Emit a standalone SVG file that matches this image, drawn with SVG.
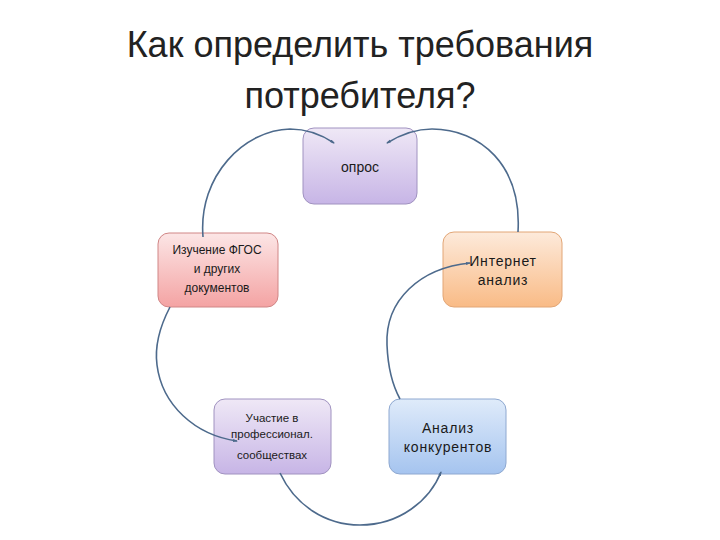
<svg xmlns="http://www.w3.org/2000/svg" width="720" height="540" viewBox="0 0 720 540">
<style>
.t{font-family:"Liberation Sans","DejaVu Sans",sans-serif;fill:#1a1a1a;text-anchor:middle}
.title{font-size:36px;fill:#222}
.c{fill:none;stroke:#4d6a8c;stroke-width:1.6}
.box{stroke-width:1}
</style>
<defs>
<linearGradient id="gV" x1="0" y1="0" x2="0" y2="1"><stop offset="0" stop-color="#efe8f6"/><stop offset="1" stop-color="#c7b5e6"/></linearGradient>
<linearGradient id="gR" x1="0" y1="0" x2="0" y2="1"><stop offset="0" stop-color="#fce6e6"/><stop offset="1" stop-color="#f4a3a3"/></linearGradient>
<linearGradient id="gO" x1="0" y1="0" x2="0" y2="1"><stop offset="0" stop-color="#fdeadb"/><stop offset="1" stop-color="#f9bb86"/></linearGradient>
<linearGradient id="gB" x1="0" y1="0" x2="0" y2="1"><stop offset="0" stop-color="#dfebfa"/><stop offset="1" stop-color="#a5c4ef"/></linearGradient>
<marker id="ah" markerWidth="5" markerHeight="5" refX="4" refY="2.5" orient="auto" markerUnits="userSpaceOnUse"><path d="M0,1 L5,2.5 L0,4 z" fill="#4d6a8c"/></marker>
</defs>
<text class="t title" x="360" y="57">Как определить требования</text>
<text class="t title" x="360" y="108">потребителя?</text>
<g id="n-opros"><rect class="box" x="303" y="128" width="114" height="76" rx="11" fill="url(#gV)" stroke="#a092c0"/><text class="t" x="360" y="172" font-size="14">опрос</text></g>
<g id="n-fgos"><rect class="box" x="158" y="233" width="120" height="74" rx="11" fill="url(#gR)" stroke="#d08686"/><text class="t" font-size="12"><tspan x="217" y="254">Изучение ФГОС</tspan><tspan x="217" y="273">и других</tspan><tspan x="217" y="292">документов</tspan></text></g>
<g id="n-internet"><rect class="box" x="443" y="232" width="119" height="75" rx="11" fill="url(#gO)" stroke="#e2a676"/><text class="t" font-size="14" letter-spacing="0.8"><tspan x="503" y="266">Интернет</tspan><tspan x="503" y="285">анализ</tspan></text></g>
<g id="n-uchastie"><rect class="box" x="214" y="399" width="117" height="75" rx="11" fill="url(#gV)" stroke="#a092c0"/><text class="t" font-size="11.5"><tspan x="272" y="422">Участие в</tspan><tspan x="272" y="438">профессионал.</tspan><tspan x="272" y="459">сообществах</tspan></text></g>
<g id="n-konk"><rect class="box" x="389" y="399" width="117" height="75" rx="11" fill="url(#gB)" stroke="#8ea8d0"/><text class="t" font-size="14" letter-spacing="0.8"><tspan x="448" y="433">Анализ</tspan><tspan x="448" y="452">конкурентов</tspan></text></g>
<g id="connectors">
<path class="c" d="M203,237 C198,175 245,130 290,129 C308,129 322,135 334,143" marker-end="url(#ah)"/>
<path class="c" d="M518,232 C522,165 480,129 432,129 C414,129 400,135 387,143" marker-end="url(#ah)"/>
<path class="c" d="M400,399 C394,388 388,370 387,345 C385,300 420,268 470,263" marker-end="url(#ah)"/>
<path class="c" d="M170,307 C158,330 155,350 157,365 C162,405 195,435 237,441" marker-end="url(#ah)"/>
<path class="c" d="M280,473 C295,505 325,525 360,525 C400,525 430,500 441,472" marker-end="url(#ah)"/>
</g>
</svg>
